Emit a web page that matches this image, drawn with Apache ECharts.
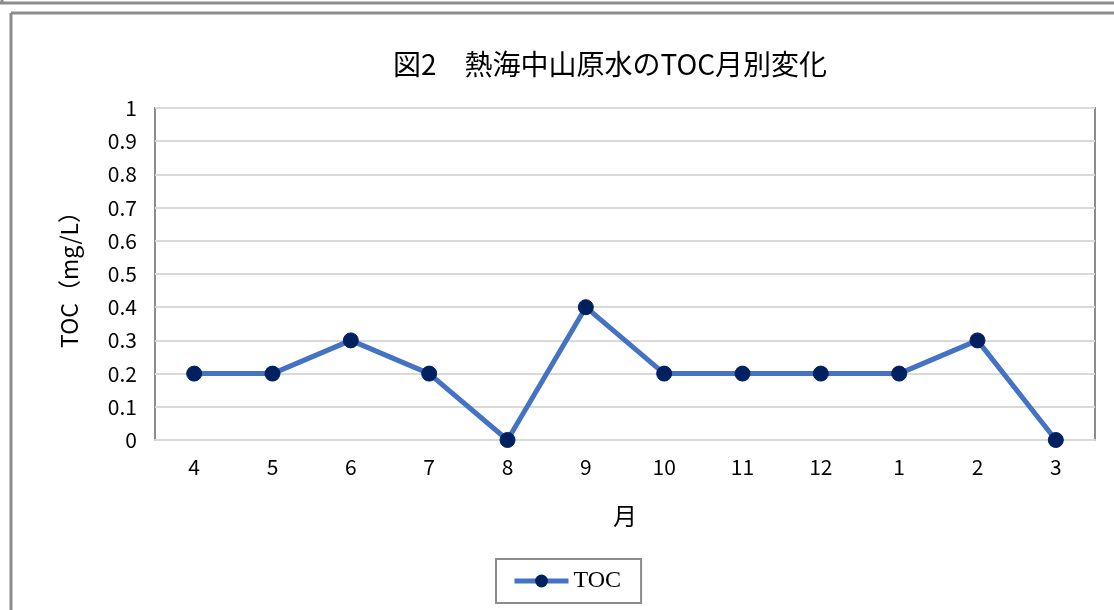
<!DOCTYPE html>
<html><head><meta charset="utf-8">
<script src="https://cdn.jsdelivr.net/npm/echarts@6/dist/echarts.min.js"></script>
<style>html,body{margin:0;padding:0;background:#fff}#c{width:1114px;height:610px}</style>
</head><body><div id="c"></div>
<script>
const titleText = '図2\u3000熱海中山原水のTOC月別変化';
const months = ['4','5','6','7','8','9','10','11','12','1','2','3'];
const tocValues = [0.2,0.2,0.3,0.2,0,0.4,0.2,0.2,0.2,0.2,0.3,0];
const seriesName = 'TOC';
const yAxisName = 'TOC（mg/L）';
const xAxisName = '月';

const font = '"Noto Sans CJK JP", "DejaVu Sans", sans-serif';
const chart = echarts.init(document.getElementById('c'));
chart.setOption({
  animation: false,
  backgroundColor: '#fff',
  title: { text: titleText, left: 605, top: 45, textAlign: 'center',
    textStyle: { fontFamily: font, fontSize: 28, fontWeight: 'normal', color: '#000' } },
  grid: { left: 155, top: 108, right: 19, bottom: 170, show: true, borderColor: '#8c8c8c', borderWidth: 2 },
  legend: { bottom: 7, left: 496, itemWidth: 54, itemHeight: 16, padding: [10, 20, 10, 16],
    borderColor: '#8c8c8c', borderWidth: 2, itemGap: 4,
    lineStyle: { width: 5 },
    textStyle: { fontFamily: '"Liberation Serif", serif', fontSize: 24, color: '#000' },
    data: [{ name: seriesName }] },
  xAxis: { type: 'category', data: months, boundaryGap: true,
    name: xAxisName, nameLocation: 'middle', nameGap: 64,
    nameTextStyle: { fontFamily: font, fontSize: 24, color: '#000' },
    axisLine: { show: true, lineStyle: { color: '#d9d9d9', width: 2 } },
    axisTick: { show: false },
    axisLabel: { fontFamily: font, fontSize: 21, color: '#000', margin: 17 } },
  yAxis: { type: 'value', min: 0, max: 1, interval: 0.1,
    name: yAxisName, nameLocation: 'middle', nameGap: 74,
    nameTextStyle: { fontFamily: font, fontSize: 23, color: '#000' },
    axisLine: { show: false }, axisTick: { show: false },
    axisLabel: { fontFamily: font, fontSize: 21, color: '#000', margin: 18,
      formatter: v => String(Math.round(v * 10) / 10) },
    splitLine: { lineStyle: { color: '#d9d9d9', width: 2 } } },
  series: [{ name: seriesName, type: 'line', data: tocValues,
    symbol: 'circle', symbolSize: 15,
    lineStyle: { color: '#4472C4', width: 5 },
    itemStyle: { color: '#002060', borderColor: '#002060' } }],
  graphic: [
    { type: 'line', shape: { x1: 0, y1: 3, x2: 1114, y2: 3 }, style: { stroke: '#8c8c8c', lineWidth: 3 } },
    { type: 'line', shape: { x1: 2, y1: 0, x2: 2, y2: 4 }, style: { stroke: '#8c8c8c', lineWidth: 3 } },
    { type: 'line', shape: { x1: 11, y1: 13, x2: 1114, y2: 13 }, style: { stroke: '#8c8c8c', lineWidth: 3 } },
    { type: 'line', shape: { x1: 11, y1: 13, x2: 11, y2: 610 }, style: { stroke: '#8c8c8c', lineWidth: 3 } }
  ]
});
</script></body></html>
